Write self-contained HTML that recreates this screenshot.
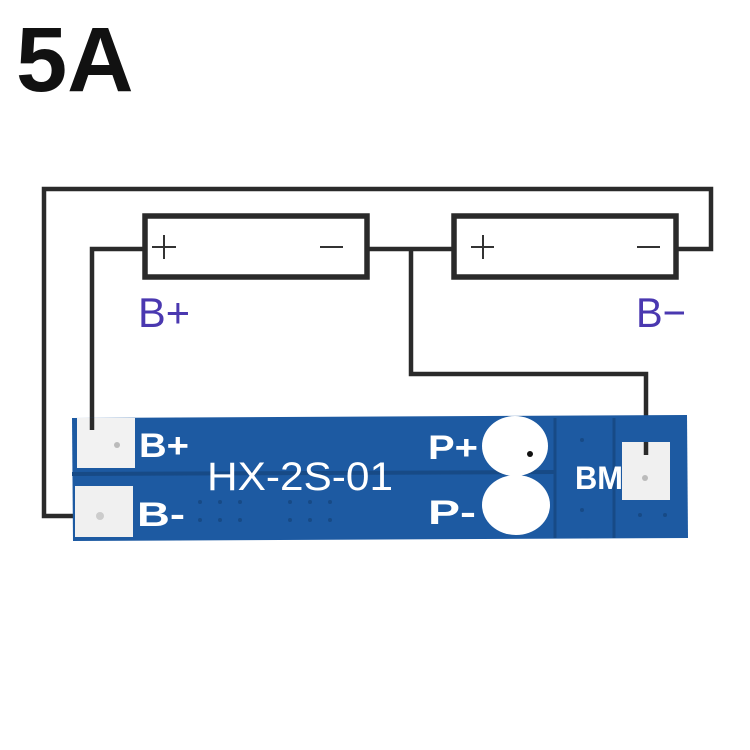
<!DOCTYPE html>
<html><head><style>
body{margin:0;width:750px;height:750px;background:#fff;overflow:hidden;position:relative;font-family:"Liberation Sans",sans-serif}
</style></head><body>
<div style="position:absolute;left:16px;top:10px;font-size:92px;font-weight:bold;color:#111;line-height:100px">5A</div>
<svg width="750" height="750" style="position:absolute;left:0;top:0">
<g fill="none" stroke="#2a2a2a" stroke-width="4.5">
<polyline points="100,516 44,516 44,189 711,189 711,249 677,249"/>
<polyline points="143,249 92,249 92,430"/>
<line x1="368" y1="249" x2="453" y2="249"/>
<polyline points="411,249 411,374 646,374 646,455"/>
<rect x="145" y="216" width="222" height="61" stroke-width="5.5"/>
<rect x="454" y="216" width="222" height="61" stroke-width="5.5"/>
</g>
<g stroke="#333" stroke-width="2">
<line x1="152" y1="247" x2="176" y2="247"/><line x1="164" y1="235" x2="164" y2="259"/>
<line x1="320" y1="247" x2="343" y2="247"/>
<line x1="471" y1="247" x2="494" y2="247"/><line x1="483" y1="235" x2="483" y2="259"/>
<line x1="637" y1="247" x2="660" y2="247"/>
</g>
<text x="138" y="327" font-family="Liberation Sans Narrow, Liberation Sans, sans-serif" font-size="42" fill="#4a38b0" textLength="52" lengthAdjust="spacingAndGlyphs">B+</text>
<text x="636" y="327" font-family="Liberation Sans Narrow, Liberation Sans, sans-serif" font-size="42" fill="#4a38b0" textLength="50" lengthAdjust="spacingAndGlyphs">B−</text>
<polygon points="72,418 687,415 688,538 73,541" fill="#1d5aa2"/>
<line x1="72" y1="474" x2="555" y2="472" stroke="#174a86" stroke-width="4"/>
<line x1="555" y1="418" x2="555" y2="538" stroke="#174a86" stroke-width="3"/>
<line x1="614" y1="418" x2="614" y2="538" stroke="#174a86" stroke-width="3"/>
<rect x="77" y="418" width="58" height="50" fill="#f2f2f2"/>
<rect x="75" y="486" width="58" height="51" fill="#f0f0f0"/>
<rect x="622" y="442" width="48" height="58" fill="#f0f0f0"/>
<line x1="92" y1="418" x2="92" y2="430" stroke="#2a2a2a" stroke-width="4.5"/>
<line x1="646" y1="442" x2="646" y2="455" stroke="#2a2a2a" stroke-width="4.5"/>
<ellipse cx="515" cy="446" rx="33" ry="30" fill="#fff"/>
<ellipse cx="516" cy="505" rx="34" ry="30" fill="#fff"/>
<circle cx="530" cy="454" r="3" fill="#111"/>
<g fill="#fff" font-family="Liberation Sans, sans-serif" font-weight="bold">
<text x="139" y="457" font-size="34" textLength="50" lengthAdjust="spacingAndGlyphs">B+</text>
<text x="137" y="526" font-size="34" textLength="48" lengthAdjust="spacingAndGlyphs">B-</text>
<text x="207" y="490" font-size="40" font-weight="normal" textLength="186" lengthAdjust="spacingAndGlyphs">HX-2S-01</text>
<text x="428" y="459" font-size="34" textLength="50" lengthAdjust="spacingAndGlyphs">P+</text>
<text x="428" y="524" font-size="34" textLength="48" lengthAdjust="spacingAndGlyphs">P-</text>
<text x="575" y="489" font-size="32" textLength="48" lengthAdjust="spacingAndGlyphs">BM</text>
</g>
<g fill="#174a86">
<circle cx="200" cy="502" r="2"/><circle cx="220" cy="502" r="2"/><circle cx="240" cy="502" r="2"/>
<circle cx="200" cy="520" r="2"/><circle cx="220" cy="520" r="2"/><circle cx="240" cy="520" r="2"/>
<circle cx="290" cy="502" r="2"/><circle cx="310" cy="502" r="2"/><circle cx="330" cy="502" r="2"/>
<circle cx="290" cy="520" r="2"/><circle cx="310" cy="520" r="2"/><circle cx="330" cy="520" r="2"/>
<circle cx="582" cy="440" r="2"/><circle cx="582" cy="510" r="2"/><circle cx="640" cy="515" r="2"/><circle cx="665" cy="515" r="2"/>
</g>
<circle cx="100" cy="516" r="4" fill="#ccc"/>
<circle cx="117" cy="445" r="3" fill="#bbb"/>
<circle cx="645" cy="478" r="3" fill="#bbb"/>
</svg>
</body></html>
